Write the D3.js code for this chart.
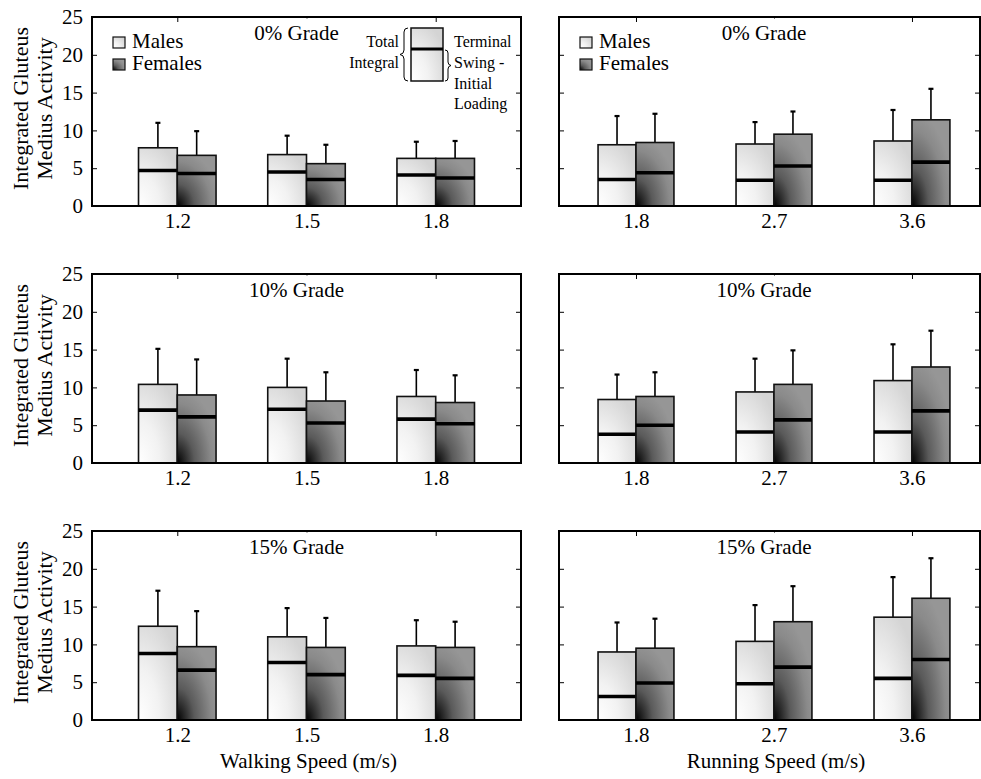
<!DOCTYPE html>
<html>
<head>
<meta charset="utf-8">
<script src="https://cdn.jsdelivr.net/npm/d3@7"></script>
<style>
body { margin: 0; background: #fff; }
text { font-family: "Liberation Serif", "Times New Roman", serif; fill: #000; }
</style>
</head>
<body>
<svg id="chart" width="981" height="779"></svg>
<script>
var grades = ["0% Grade", "10% Grade", "15% Grade"];
var walkSpeeds = ["1.2", "1.5", "1.8"];
var runSpeeds = ["1.8", "2.7", "3.6"];
var yTicks = [0, 5, 10, 15, 20, 25];

// rows = grade (0, 10, 15 %), columns = speed
var walkMaleTotal = [[7.7, 6.8, 6.3], [10.4, 10.0, 8.8], [12.4, 11.0, 9.8]];
var walkMaleSwing = [[4.7, 4.5, 4.1], [7.0, 7.1, 5.8], [8.8, 7.6, 5.9]];
var walkMaleUpper = [[11.0, 9.3, 8.5], [15.1, 13.8, 12.3], [17.1, 14.8, 13.2]];
var walkFemaleTotal = [[6.7, 5.6, 6.3], [9.0, 8.2, 8.0], [9.7, 9.6, 9.6]];
var walkFemaleSwing = [[4.3, 3.5, 3.7], [6.1, 5.3, 5.2], [6.6, 6.0, 5.5]];
var walkFemaleUpper = [[9.9, 8.1, 8.6], [13.7, 12.0, 11.6], [14.4, 13.5, 13.0]];

var runMaleTotal = [[8.1, 8.2, 8.6], [8.4, 9.4, 10.9], [9.0, 10.4, 13.6]];
var runMaleSwing = [[3.5, 3.4, 3.4], [3.8, 4.1, 4.1], [3.1, 4.8, 5.5]];
var runMaleUpper = [[11.9, 11.1, 12.7], [11.7, 13.8, 15.7], [12.9, 15.2, 18.9]];
var runFemaleTotal = [[8.4, 9.5, 11.4], [8.8, 10.4, 12.7], [9.5, 13.0, 16.1]];
var runFemaleSwing = [[4.4, 5.3, 5.8], [5.0, 5.7, 6.9], [4.9, 7.0, 8.0]];
var runFemaleUpper = [[12.2, 12.5, 15.5], [12.0, 14.9, 17.5], [13.4, 17.7, 21.4]];

var svg = d3.select("#chart");
var defs = svg.append("defs");

function makeGradient(id, r, stops) {
    var g = defs.append("radialGradient")
        .attr("id", id)
        .attr("cx", 0).attr("cy", 1).attr("fx", 0).attr("fy", 1).attr("r", r);
    stops.forEach(function(s) {
        g.append("stop").attr("offset", s[0]).attr("stop-color", s[1]);
    });
}
makeGradient("gMale", 1.2, [[0, "#ffffff"], [0.45, "#f2f2f2"], [1, "#d4d4d4"]]);
makeGradient("gFemale", 1.1, [[0, "#000000"], [0.4, "#5a5a5a"], [0.8, "#8a8a8a"], [1, "#969696"]]);

var rowTops = [17, 274, 531];
var panelH = 189;

var columns = [
    { x0: 92, x1: 521, domain: [0.34, 3.66], barW: 0.3, speeds: walkSpeeds,
      mT: walkMaleTotal, mS: walkMaleSwing, mU: walkMaleUpper,
      fT: walkFemaleTotal, fS: walkFemaleSwing, fU: walkFemaleUpper,
      label: "Walking Speed (m/s)", yLabels: true, titleShift: -10 },
    { x0: 559, x1: 980, domain: [0.442, 3.493], barW: 0.275, speeds: runSpeeds,
      mT: runMaleTotal, mS: runMaleSwing, mU: runMaleUpper,
      fT: runFemaleTotal, fS: runFemaleSwing, fU: runFemaleUpper,
      label: "Running Speed (m/s)", yLabels: false, titleShift: -10 }
];

columns.forEach(function(col, ci) {
    var x = d3.scaleLinear().domain(col.domain).range([col.x0, col.x1]);
    var bw = x(1 + col.barW) - x(1);

    rowTops.forEach(function(top, ri) {
        var y = d3.scaleLinear().domain([0, 25]).range([top + panelH, top]);
        var g = svg.append("g");

        // bottom axis (inward ticks + labels)
        var bottom = g.append("g")
            .attr("transform", "translate(0," + (top + panelH) + ")")
            .call(d3.axisBottom(x).tickValues([1, 2, 3])
                .tickFormat(function(d) { return col.speeds[d - 1]; })
                .tickSizeInner(-5).tickSizeOuter(0).tickPadding(7));
        bottom.select(".domain").remove();
        bottom.selectAll("text").style("font-size", "21px");
        bottom.selectAll("line").attr("stroke", "#000");

        // left axis
        var left = g.append("g")
            .attr("transform", "translate(" + col.x0 + ",0)")
            .call(d3.axisLeft(y).tickValues(yTicks)
                .tickSizeInner(-5).tickSizeOuter(0).tickPadding(9)
                .tickFormat(col.yLabels ? d3.format("d") : function() { return ""; }));
        left.select(".domain").remove();
        left.selectAll("text").style("font-size", "21px");

        // right axis
        var right = g.append("g")
            .attr("transform", "translate(" + col.x1 + ",0)")
            .call(d3.axisRight(y).tickValues(yTicks.slice(1, 5))
                .tickSizeInner(-5).tickSizeOuter(0).tickFormat(""));
        right.select(".domain").remove();

        // top axis
        var topAx = g.append("g")
            .attr("transform", "translate(0," + top + ")")
            .call(d3.axisTop(x).tickValues([1, 2, 3])
                .tickSizeInner(-5).tickSizeOuter(0).tickFormat(""));
        topAx.select(".domain").remove();

        // bars
        var data = col.speeds.map(function(s, i) {
            return [
                { c: i + 1, side: -1, total: col.mT[ri][i], swing: col.mS[ri][i], upper: col.mU[ri][i], fill: "url(#gMale)" },
                { c: i + 1, side: 1, total: col.fT[ri][i], swing: col.fS[ri][i], upper: col.fU[ri][i], fill: "url(#gFemale)" }
            ];
        }).flat();

        var bars = g.selectAll(".bar").data(data).enter().append("g");
        function bx(d) { return d.side < 0 ? x(d.c) - bw : x(d.c); }

        bars.append("line")
            .attr("x1", function(d) { return bx(d) + bw / 2; })
            .attr("x2", function(d) { return bx(d) + bw / 2; })
            .attr("y1", function(d) { return y(d.total); })
            .attr("y2", function(d) { return y(d.upper); })
            .attr("stroke", "#000").attr("stroke-width", 1.6);
        bars.append("line")
            .attr("x1", function(d) { return bx(d) + bw / 2 - 2.5; })
            .attr("x2", function(d) { return bx(d) + bw / 2 + 2.5; })
            .attr("y1", function(d) { return y(d.upper); })
            .attr("y2", function(d) { return y(d.upper); })
            .attr("stroke", "#000").attr("stroke-width", 2.2);
        bars.append("rect")
            .attr("x", bx)
            .attr("y", function(d) { return y(d.total); })
            .attr("width", bw)
            .attr("height", function(d) { return y(0) - y(d.total); })
            .attr("fill", function(d) { return d.fill; })
            .attr("stroke", "#111").attr("stroke-width", 1.6);
        bars.append("line")
            .attr("x1", bx)
            .attr("x2", function(d) { return bx(d) + bw; })
            .attr("y1", function(d) { return y(d.swing); })
            .attr("y2", function(d) { return y(d.swing); })
            .attr("stroke", "#000").attr("stroke-width", 3.6);

        // frame
        g.append("rect")
            .attr("x", col.x0).attr("y", top)
            .attr("width", col.x1 - col.x0).attr("height", panelH)
            .attr("fill", "none").attr("stroke", "#000").attr("stroke-width", 2);

        // title with white backing
        var tg = g.append("g");
        var title = tg.append("text")
            .attr("x", x(2) + col.titleShift)
            .attr("y", top + 23)
            .attr("text-anchor", "middle")
            .style("font-size", "21px")
            .text(grades[ri]);
        var bb = title.node().getBBox();
        tg.insert("rect", "text")
            .attr("x", bb.x - 2).attr("y", top + 1.5)
            .attr("width", bb.width + 4).attr("height", bb.y + bb.height - top)
            .attr("fill", "#fff");

        // y label
        if (col.yLabels) {
            var cy = top + panelH / 2 - 3;
            svg.append("text")
                .attr("transform", "translate(28," + cy + ") rotate(-90)")
                .attr("text-anchor", "middle")
                .style("font-size", "22px")
                .text("Integrated Gluteus");
            svg.append("text")
                .attr("transform", "translate(52," + cy + ") rotate(-90)")
                .attr("text-anchor", "middle")
                .style("font-size", "22px")
                .text("Medius Activity");
        }

        // sex legend on top row
        if (ri === 0) {
            var lg = g.append("g").attr("transform", "translate(" + (col.x0 + 21) + "," + top + ")");
            [["Males", "url(#gMale)", 31], ["Females", "url(#gFemale)", 53]].forEach(function(l) {
                lg.append("rect")
                    .attr("x", 0).attr("y", l[2] - 11)
                    .attr("width", 12).attr("height", 11)
                    .attr("fill", l[1]).attr("stroke", "#111").attr("stroke-width", 1.2);
                lg.append("text")
                    .attr("x", 19).attr("y", l[2])
                    .style("font-size", "21px")
                    .text(l[0]);
            });
        }
    });

    // x axis title
    var xl = d3.scaleLinear().domain(col.domain).range([col.x0, col.x1]);
    svg.append("text")
        .attr("x", xl(2) + 2)
        .attr("y", 768)
        .attr("text-anchor", "middle")
        .style("font-size", "21px")
        .text(col.label);
});

// inset key (top-left panel)
var key = svg.append("g");
key.append("rect")
    .attr("x", 411).attr("y", 28).attr("width", 32).attr("height", 53)
    .attr("fill", "url(#gMale)").attr("stroke", "#111").attr("stroke-width", 1.5);
key.append("line")
    .attr("x1", 411).attr("x2", 443).attr("y1", 49).attr("y2", 49)
    .attr("stroke", "#000").attr("stroke-width", 3);
key.append("path")
    .attr("d", "M408,28 Q404,28 404,32 L404,50 Q404,54 400,54.5 Q404,55 404,59 L404,77 Q404,81 408,81")
    .attr("fill", "none").attr("stroke", "#000").attr("stroke-width", 1);
key.append("path")
    .attr("d", "M445,50 Q448,50 448,53 L448,62 Q448,65 451,65.5 Q448,66 448,69 L448,78 Q448,81 445,81")
    .attr("fill", "none").attr("stroke", "#000").attr("stroke-width", 1);
[["Total", 47], ["Integral", 68]].forEach(function(t) {
    key.append("text").attr("x", 399).attr("y", t[1])
        .attr("text-anchor", "end").style("font-size", "16px").text(t[0]);
});
[["Terminal", 47], ["Swing -", 68], ["Initial", 89], ["Loading", 109]].forEach(function(t) {
    key.append("text").attr("x", 454).attr("y", t[1])
        .style("font-size", "16px").text(t[0]);
});
</script>
</body>
</html>
